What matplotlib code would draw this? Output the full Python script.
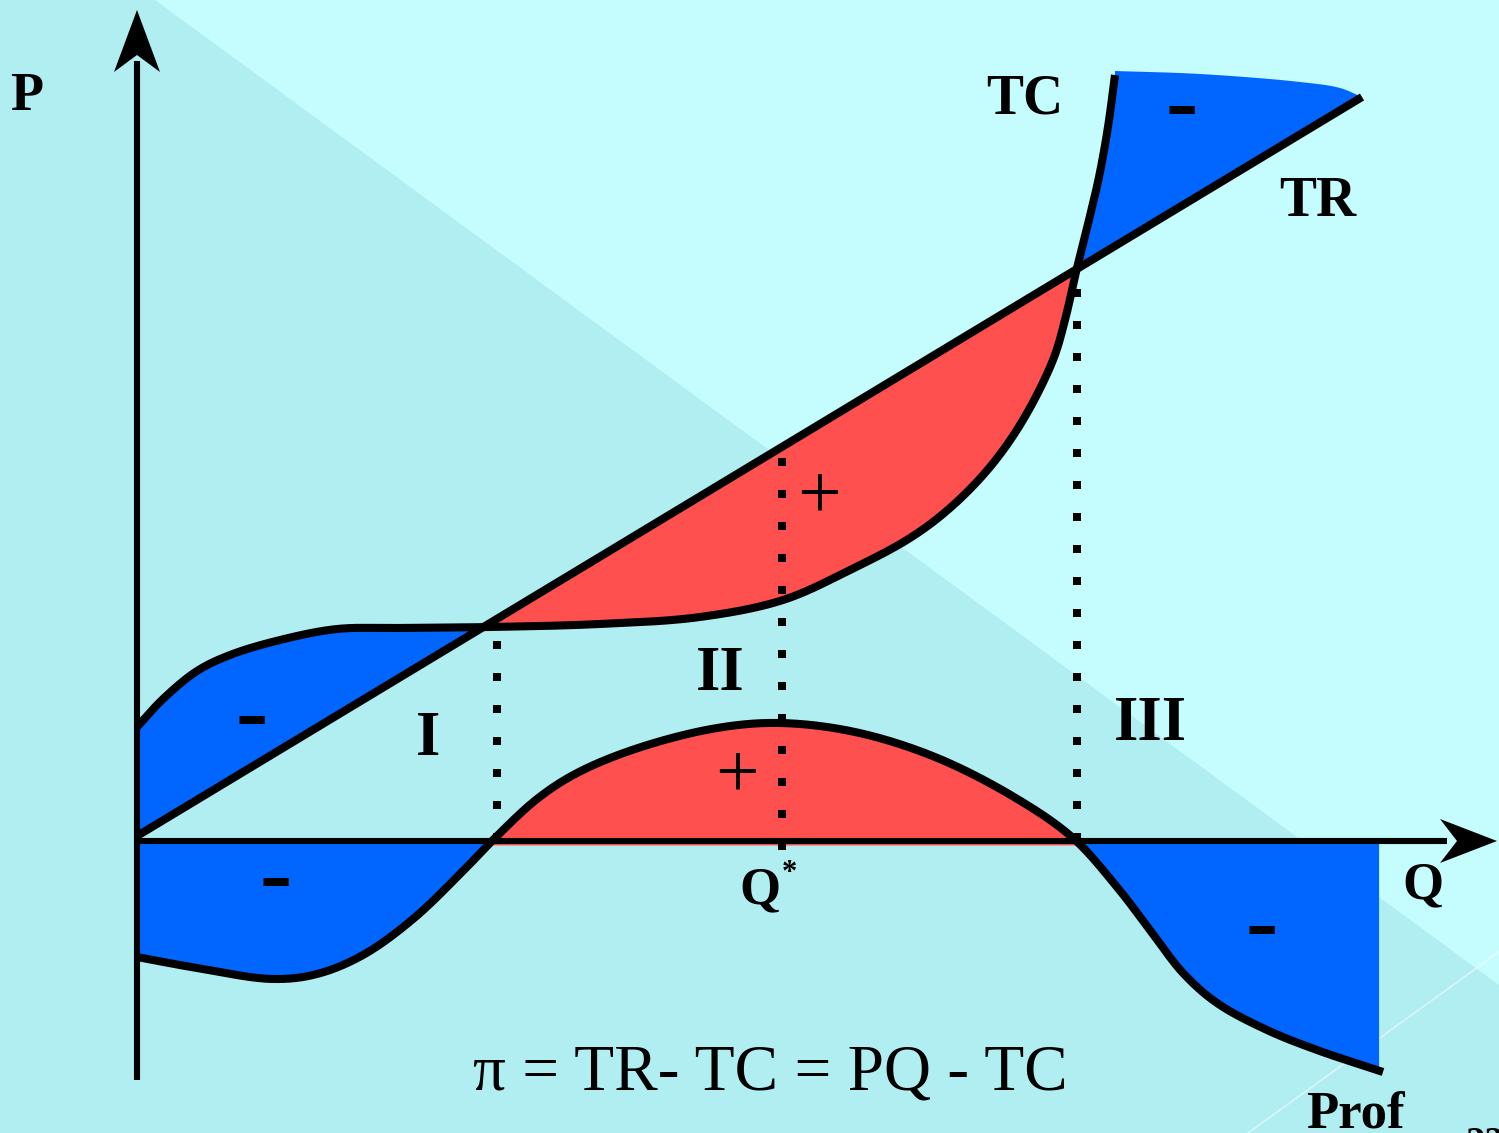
import numpy as np
import matplotlib
matplotlib.use("Agg")
import matplotlib.pyplot as plt

# ---------------- data (chart units: Q to the right, value upward) -------------
q_tr = [0.0, 12.25]
tr_v = [0.05, 7.44]

q_tc = [0.00, 0.26, 0.60, 0.93, 1.43, 2.00, 2.60, 3.53, 4.63, 5.63, 6.46, 7.13,
        7.73, 8.13, 8.53, 8.86, 9.16, 9.28, 9.39, 9.51, 9.62, 9.71, 9.78]
tc_v = [1.14, 1.42, 1.70, 1.86, 2.01, 2.12, 2.13, 2.14, 2.17, 2.24, 2.41, 2.71,
        3.03, 3.33, 3.74, 4.21, 4.81, 5.21, 5.69, 6.17, 6.64, 7.14, 7.66]

q_pi = [0.00, 0.60, 1.36, 1.80, 2.26, 2.76, 3.26, 3.56, 4.00, 4.40, 5.01, 5.80, 6.43,
        7.18, 7.98, 8.77, 9.36, 9.80, 10.13, 10.46, 10.80, 11.30, 11.80, 12.46]
pi_v = [-1.16, -1.27, -1.38, -1.33, -1.14, -0.78, -0.30, 0.01, 0.42, 0.68, 0.93, 1.13, 1.18,
        1.09, 0.84, 0.44, 0.03, -0.46, -0.89, -1.32, -1.62, -1.89, -2.09, -2.31]

# upper edge of the loss region above Q3
cap_q = [9.78, 10.63, 11.63, 12.03, 12.25]
cap_v = [7.70, 7.67, 7.59, 7.53, 7.44]

q_star = 6.45
region_labels = ["I", "II", "III"]

BLUE = "#0066FF"
RED = "#FF5050"
BG_DARK = "#B1EEF2"
BG_LIGHT = "#C5FCFE"


def catmull(xs, ys, n=30, alpha=0.5):
    P = np.column_stack([xs, ys]).astype(float)
    P = np.vstack([2 * P[0] - P[1], P, 2 * P[-1] - P[-2]])
    out = []
    for i in range(1, len(P) - 2):
        p0, p1, p2, p3 = P[i - 1], P[i], P[i + 1], P[i + 2]
        t0 = 0.0
        t1 = t0 + np.linalg.norm(p1 - p0) ** alpha
        t2 = t1 + np.linalg.norm(p2 - p1) ** alpha
        t3 = t2 + np.linalg.norm(p3 - p2) ** alpha
        t = np.linspace(t1, t2, n, endpoint=False)[:, None]
        A1 = (t1 - t) / (t1 - t0) * p0 + (t - t0) / (t1 - t0) * p1
        A2 = (t2 - t) / (t2 - t1) * p1 + (t - t1) / (t2 - t1) * p2
        A3 = (t3 - t) / (t3 - t2) * p2 + (t - t2) / (t3 - t2) * p3
        B1 = (t2 - t) / (t2 - t0) * A1 + (t - t0) / (t2 - t0) * A2
        B2 = (t3 - t) / (t3 - t1) * A2 + (t - t1) / (t3 - t1) * A3
        C = (t2 - t) / (t2 - t1) * B1 + (t - t1) / (t2 - t1) * B2
        out.append(C)
    out.append(P[-2][None, :])
    S = np.vstack(out)
    return S[:, 0], S[:, 1]


fig = plt.figure(figsize=(14.99, 11.33), dpi=100)
ax = fig.add_axes([0, 0, 1, 1])
X0, X1 = -1.37, 13.62
Y0, Y1 = -2.92, 8.41
ax.set_xlim(X0, X1)
ax.set_ylim(Y0, Y1)
ax.axis("off")

# background
ax.add_patch(plt.Rectangle((X0, Y0), X1 - X0, Y1 - Y0, color=BG_DARK, zorder=0))
ax.fill([0.18, X1, X1], [Y1, Y1, -1.44], color=BG_LIGHT, zorder=0.1, lw=0)
ax.plot([11.11, X1], [Y0, -1.11], color="white", alpha=0.5, lw=1.2, zorder=0.2)

# curves
tcx, tcy = catmull(q_tc, tc_v)
pix, piy = catmull(q_pi, pi_v)
trx = np.linspace(q_tr[0], q_tr[-1], 400)
tr_y = np.interp(trx, q_tr, tr_v)

diff = tcy - np.interp(tcx, q_tr, tr_v)
idx = np.where(np.diff(np.sign(diff)) != 0)[0]
c1 = tcx[idx[0]] + (tcx[idx[0] + 1] - tcx[idx[0]]) * diff[idx[0]] / (diff[idx[0]] - diff[idx[0] + 1])
c2 = tcx[idx[-1]] + (tcx[idx[-1] + 1] - tcx[idx[-1]]) * diff[idx[-1]] / (diff[idx[-1]] - diff[idx[-1] + 1])


def tr_at(q):
    return np.interp(q, q_tr, tr_v)


# upper-left loss
m = tcx <= c1
poly_x = np.concatenate([tcx[m], [c1], [c1, 0.0]])
poly_y = np.concatenate([tcy[m], [tr_at(c1)], [tr_at(c1), tr_at(0.0)]])
ax.fill(poly_x, poly_y, color=BLUE, lw=0, zorder=1)
# upper profit
m = (tcx >= c1) & (tcx <= c2)
poly_x = np.concatenate([[c1], tcx[m], [c2, c1]])
poly_y = np.concatenate([[tr_at(c1)], tcy[m], [tr_at(c2), tr_at(c1)]])
ax.fill(poly_x, poly_y, color=RED, lw=0, zorder=1)
# upper-right loss
m = tcx >= c2
cx, cy = catmull(cap_q, cap_v, n=12)
poly_x = np.concatenate([[c2], tcx[m], cx, [c2]])
poly_y = np.concatenate([[tr_at(c2)], tcy[m], cy, [tr_at(c2)]])
ax.fill(poly_x, poly_y, color=BLUE, lw=0, zorder=1)

# lower fills
ax.fill_between(pix, piy, -0.04, where=(piy >= 0), interpolate=True, color=RED, lw=0, zorder=1)
ax.fill_between(pix, piy, -0.02, where=(piy <= 0) & (pix < 6), interpolate=True, color=BLUE, lw=0, zorder=1)
ax.fill_between(pix, piy, -0.02, where=(piy <= 0) & (pix > 6) & (pix <= 12.43), interpolate=True,
                color=BLUE, lw=0, zorder=1)

LW = 5.8
ax.plot(tcx, tcy, color="black", lw=LW, zorder=3, solid_capstyle="butt")
ax.plot(trx, tr_y, color="black", lw=LW, zorder=3, solid_capstyle="butt")
ax.plot(pix, piy, color="black", lw=LW, zorder=3, solid_capstyle="butt")

# dotted guides
dot = dict(color="black", lw=5.76, linestyle=(0, (1, 3)), dash_capstyle="butt", zorder=2)
ax.plot([3.60, 3.60], [2.00, 0.0], **dot)
ax.plot([q_star, q_star], [3.83, -0.09], **dot)
ax.plot([9.40, 9.40], [5.52, 0.0], **dot)

# axes with stealth arrowheads
ALW = 4.4
ax.plot([0, 0], [-2.39, 7.8], color="black", lw=ALW, zorder=4, solid_capstyle="butt")
ax.fill([0, -0.23, 0, 0.23], [8.31, 7.69, 7.86, 7.69], color="black", lw=0, zorder=4)
ax.plot([0, 13.1], [0, 0], color="black", lw=ALW, zorder=4, solid_capstyle="butt")
ax.fill([13.60, 13.03, 13.20, 13.03], [0, 0.22, 0, -0.22], color="black", lw=0, zorder=4)

# texts
serif = "Liberation Serif"
bold = dict(family=serif, weight="bold", color="black", zorder=5)
ax.text(-1.10, 7.44, "P", fontsize=39, ha="center", va="center", **bold)
ax.text(8.88, 7.41, "TC", fontsize=40, ha="center", va="center", **bold)
ax.text(11.81, 6.39, "TR", fontsize=40, ha="center", va="center", **bold)
ax.text(2.91, 1.01, region_labels[0], fontsize=45, ha="center", va="center", **bold)
ax.text(5.83, 1.66, region_labels[1], fontsize=45, ha="center", va="center", **bold)
ax.text(10.13, 1.16, region_labels[2], fontsize=45, ha="center", va="center", **bold)
ax.text(6.23, -0.49, "Q", fontsize=38, ha="center", va="center", **bold)
ax.text(6.52, -0.33, "*", fontsize=22, ha="center", va="center", **bold)
ax.text(12.86, -0.44, "Q", fontsize=38, ha="center", va="center", **bold)
ax.text(12.18, -2.86, "Prof", fontsize=38, ha="center", va="baseline", **bold)
ax.text(13.28, -3.13, "22", fontsize=28, ha="left", va="baseline", **bold)

ax.text(6.33, -2.33, "\u03c0 = TR- TC = PQ - TC", fontsize=47, family=serif,
        ha="center", va="center", color="black", zorder=5)

for (x, y) in [(6.82, 3.42), (6.00, 0.63)]:
    ax.text(x, y, "+", fontsize=56, family=serif, ha="center", va="center", color="black", zorder=5)
for (x, y) in [(1.15, 1.22), (1.39, -0.41), (10.45, 7.31), (11.25, -0.89)]:
    ax.text(x, y, "-", fontsize=70, ha="center", va="center", **bold)

fig.savefig("out.png", dpi=100)
